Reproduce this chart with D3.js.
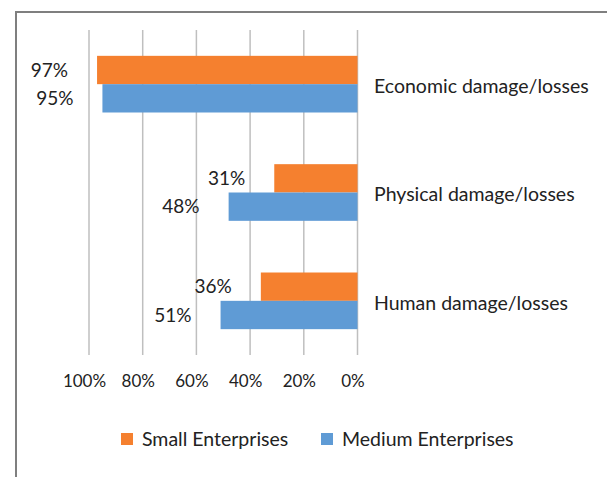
<!DOCTYPE html>
<html>
<head>
<meta charset="utf-8">
<script src="https://cdn.jsdelivr.net/npm/d3@7"></script>
<style>
  html, body { margin: 0; padding: 0; background: #fff; }
  svg { display: block; }
  text { font-family: Lato, "Open Sans", sans-serif; fill: #222; }
</style>
</head>
<body>
<svg id="chart" width="607" height="477"></svg>
<script>
// Share of enterprises reporting each type of damage/loss
const categories = ["Economic damage/losses", "Physical damage/losses", "Human damage/losses"];
const seriesNames = ["Small Enterprises", "Medium Enterprises"];
const smallValues = [0.97, 0.31, 0.36];
const mediumValues = [0.95, 0.48, 0.51];
const tickValues = [1, 0.8, 0.6, 0.4, 0.2, 0];
const colors = ["#F5802F", "#5F9BD5"];

const svg = d3.select("#chart");

// Outer frame (continues past the right and bottom edges)
svg.append("rect")
  .attr("x", 16).attr("y", 12)
  .attr("width", 700).attr("height", 600)
  .attr("fill", "none")
  .attr("stroke", "#7f7f7f")
  .attr("stroke-width", 2);

const plotTop = 30, plotBottom = 355;

// Reversed value axis: 0% on the right, 100% on the left
const x = d3.scaleLinear().domain([0, 1]).range([357.5, 89]);

const y = d3.scaleBand()
  .domain(categories)
  .range([plotTop, plotBottom])
  .paddingInner(0.477)
  .paddingOuter(0.2385);

const ySub = d3.scaleBand()
  .domain(seriesNames)
  .range([0, y.bandwidth()]);

// Vertical gridlines
svg.append("g")
  .selectAll("line")
  .data(tickValues)
  .join("line")
  .attr("x1", d => x(d)).attr("x2", d => x(d))
  .attr("y1", plotTop).attr("y2", plotBottom)
  .attr("stroke", "#bfbfbf")
  .attr("stroke-width", 1.5);

// Axis tick labels
const axis = d3.axisBottom(x)
  .tickValues(tickValues)
  .tickFormat(d3.format(".0%"))
  .tickSize(0)
  .tickPadding(0);

const axisG = svg.append("g")
  .attr("transform", `translate(-5, ${plotBottom + 20})`)
  .call(axis);
axisG.select(".domain").remove();
axisG.selectAll("text")
  .attr("font-size", 17)
  .attr("fill", "#222")
  .style("font-family", "Lato, sans-serif");

// Rows: flatten data per category/series
const rows = [];
categories.forEach((c, i) => {
  rows.push({ cat: c, series: seriesNames[0], value: smallValues[i], color: colors[0] });
  rows.push({ cat: c, series: seriesNames[1], value: mediumValues[i], color: colors[1] });
});

svg.append("g")
  .selectAll("rect")
  .data(rows)
  .join("rect")
  .attr("x", d => x(d.value))
  .attr("y", d => y(d.cat) + ySub(d.series))
  .attr("width", d => x(0) - x(d.value))
  .attr("height", ySub.bandwidth())
  .attr("fill", d => d.color);

// Value labels, placed left of each bar
svg.append("g")
  .selectAll("text")
  .data(rows)
  .join("text")
  .attr("x", d => x(d.value) - 29)
  .attr("y", d => y(d.cat) + ySub(d.series) + ySub.bandwidth() / 2)
  .attr("dy", "0.35em")
  .attr("text-anchor", "end")
  .attr("font-size", 19)
  .text(d => d3.format(".0%")(d.value));

// Category labels on the right
svg.append("g")
  .selectAll("text")
  .data(categories)
  .join("text")
  .attr("x", 374)
  .attr("y", d => y(d) + y.bandwidth() / 2 + 2)
  .attr("dy", "0.35em")
  .attr("font-size", 19.5)
  .text(d => d);

// Legend
const legend = svg.append("g").attr("transform", "translate(0, 438)");
const legendX = [121, 321];
seriesNames.forEach((name, i) => {
  legend.append("rect")
    .attr("x", legendX[i]).attr("y", -5)
    .attr("width", 12).attr("height", 12)
    .attr("fill", colors[i]);
  legend.append("text")
    .attr("x", legendX[i] + 21)
    .attr("y", 1)
    .attr("dy", "0.35em")
    .attr("font-size", 19.5)
    .text(name);
});
</script>
</body>
</html>
